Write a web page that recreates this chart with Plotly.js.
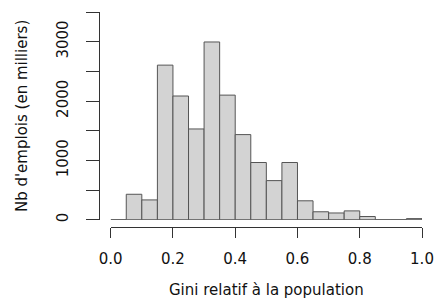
<!DOCTYPE html>
<html>
<head>
<meta charset="utf-8">
<script src="https://cdn.plot.ly/plotly-3.0.1.min.js"></script>
<style>html,body{margin:0;padding:0;background:#fff;}#chart{width:441px;height:302px;}</style>
</head>
<body>
<div id="chart"></div>
<script>
// Histogram bins (left edges) and counts (thousands of jobs)
var binStart = [0.00,0.05,0.10,0.15,0.20,0.25,0.30,0.35,0.40,0.45,0.50,0.55,0.60,0.65,0.70,0.75,0.80,0.85,0.90,0.95];
var binWidth = 0.05;
var counts   = [0,430,335,2605,2085,1530,2995,2100,1435,965,660,965,320,135,115,150,55,0,0,20];
var xTickVals = [0,0.2,0.4,0.6,0.8,1.0];
var xTickText = ['0.0','0.2','0.4','0.6','0.8','1.0'];
var yTickVals = [0,500,1000,1500,2000,2500,3000,3500];
var yTickText = ['0','','1000','','2000','','3000',''];
var xTitle = 'Gini relatif à la population';
var yTitle = "Nb d'emplois (en milliers)";

var centers = binStart.map(function(s){return s + binWidth/2;});
var font = {family:'DejaVu Sans, Arial, sans-serif', size:15, color:'#111'};

var traces = [
  {type:'scatter', mode:'lines', x:[binStart[0], binStart[binStart.length-1]+binWidth], y:[0,0],
   line:{color:'#555', width:1}, hoverinfo:'skip', showlegend:false, cliponaxis:false},
  {type:'bar', x:centers, y:counts, width:binWidth,
   marker:{color:'#d3d3d3', line:{color:'#555', width:1}}, showlegend:false, cliponaxis:false}
];

var layout = {
  width:441, height:302,
  margin:{l:99, r:19, t:12, b:75},
  paper_bgcolor:'#fff', plot_bgcolor:'#fff',
  font:font,
  bargap:0,
  xaxis:{domain:[0.0362,1], range:[0,1], anchor:'free', position:0,
         showline:true, linecolor:'#333', linewidth:1, showgrid:false, zeroline:false,
         ticks:'outside', ticklen:10, tickcolor:'#333', tickwidth:1,
         tickvals:xTickVals, ticktext:xTickText, ticklabelstandoff:8,
         title:{text:xTitle, font:font, standoff:17}},
  yaxis:{domain:[0.0335,1], range:[0,3500], anchor:'free', position:0,
         showline:true, linecolor:'#333', linewidth:1, showgrid:false, zeroline:false,
         ticks:'outside', ticklen:13, tickcolor:'#333', tickwidth:1,
         tickvals:yTickVals, ticktext:yTickText, tickangle:-90, ticklabelstandoff:12,
         title:{text:yTitle, font:font, standoff:21}}
};

Plotly.newPlot('chart', traces, layout, {displayModeBar:false, staticPlot:true});
</script>
</body>
</html>
